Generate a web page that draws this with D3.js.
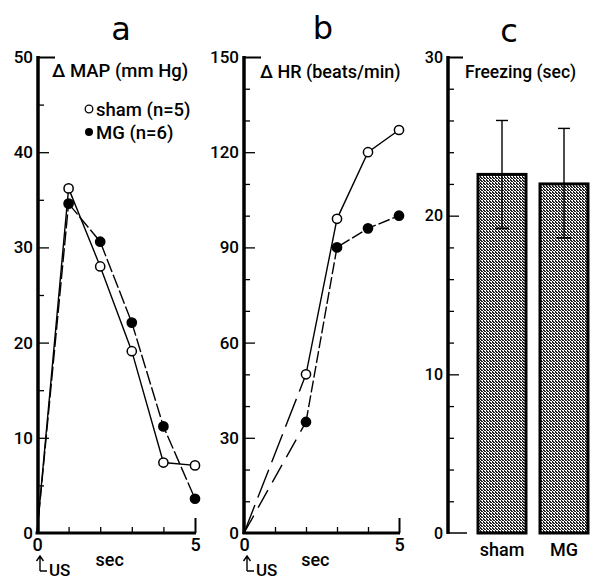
<!DOCTYPE html>
<html><head><meta charset="utf-8">
<script src="https://cdn.jsdelivr.net/npm/d3@7"></script>
<style>
body{margin:0;background:#fff;}
text{font-family:Roboto,"Liberation Sans",sans-serif;font-weight:500;fill:#000;}
</style></head><body>
<svg id="c" width="590" height="580"></svg>
<script>
// ---- data ----
const timeSec = [0, 1, 2, 3, 4, 5];
const mapSham = [0, 36.2, 28.0, 19.1, 7.4, 7.1];
const mapMG   = [0, 34.6, 30.6, 22.1, 11.2, 3.6];
const hrTime  = [0, 2, 3, 4, 5];
const hrSham  = [0, 50, 99, 120, 127];
const hrMG    = [0, 35, 90, 96, 100];
const groups  = ["sham", "MG"];
const freezeMean = [22.6, 22.0];
const freezeUpper = [26.0, 25.5];
const freezeLower = [19.2, 18.6];
const aTicks = [0, 10, 20, 30, 40, 50];
const bTicks = [0, 30, 60, 90, 120, 150];
const cTicks = [0, 10, 20, 30];
const xTickLabels = [0, 5];

const svg = d3.select("#c");
const defs = svg.append("defs");
const pat = defs.append("pattern").attr("id","dots").attr("width",3).attr("height",3)
  .attr("patternUnits","userSpaceOnUse");
pat.append("rect").attr("width",3).attr("height",3).attr("fill","#fff");
pat.append("rect").attr("x",0).attr("y",0).attr("width",2).attr("height",1).attr("fill","#222");
pat.append("rect").attr("x",1).attr("y",1).attr("width",2).attr("height",1).attr("fill","#222");
pat.append("rect").attr("x",0).attr("y",2).attr("width",1).attr("height",1).attr("fill","#222");

const FONT = 'Roboto,"Liberation Sans",sans-serif';

function yAxisPanel(y, x0, minorStep, majors, topTickLen, fs) {
  const g = svg.append("g").attr("transform", `translate(${x0},0)`);
  const [lo, hi] = y.domain();
  const minors = d3.range(lo, hi + 1e-9, minorStep).filter(v => !majors.includes(v));
  g.append("g").call(d3.axisRight(y).tickValues(minors).tickSize(6).tickFormat(""))
    .call(s => s.select(".domain").remove())
    .selectAll("line").attr("stroke-width",1.3);
  g.append("g").call(d3.axisRight(y).tickValues(majors.filter(v => v !== hi && v !== lo)).tickSize(11).tickFormat(""))
    .call(s => s.select(".domain").remove())
    .selectAll("line").attr("stroke-width",1.3);
  g.append("g").call(d3.axisRight(y).tickValues([hi]).tickSize(topTickLen).tickFormat(""))
    .call(s => s.select(".domain").remove())
    .selectAll("line").attr("stroke-width",2);
  const lab = g.append("g").call(d3.axisLeft(y).tickValues(majors).tickSize(0).tickPadding(5).tickFormat(d3.format("d")));
  lab.select(".domain").remove();
  lab.selectAll("text").attr("font-size",fs || 17).attr("font-weight","bold")
    .style("font-family",FONT);
  g.append("line").attr("x1",0).attr("x2",0).attr("y1",y(hi)-1).attr("y2",y(lo)+1)
    .attr("stroke","#000").attr("stroke-width",3.5);
  return g;
}

function xAxisPanel(x, y0) {
  const g = svg.append("g").attr("transform", `translate(0,${y0})`);
  g.append("g").call(d3.axisTop(x).tickValues([1,2,3,4]).tickSize(6).tickFormat(""))
    .call(s => s.select(".domain").remove())
    .selectAll("line").attr("stroke-width",1.3);
  g.append("g").call(d3.axisTop(x).tickValues([5]).tickSize(15).tickFormat(""))
    .call(s => s.select(".domain").remove())
    .selectAll("line").attr("stroke-width",2);
  g.append("line").attr("x1",x(0)-1.5).attr("x2",x(5)+1).attr("y1",0).attr("y2",0)
    .attr("stroke","#000").attr("stroke-width",3);
  const lab = g.append("g").call(d3.axisBottom(x).tickValues(xTickLabels).tickSize(0).tickPadding(5).tickFormat(d3.format("d")));
  lab.select(".domain").remove();
  lab.selectAll("text").attr("font-size",18).attr("font-weight","bold")
    .style("font-family",FONT);
  svg.append("text").attr("x", x(2.3)).attr("y", y0+33).attr("text-anchor","middle")
    .attr("font-size",18).text("sec");
  // US arrow
  const ax = x(0)+3;
  svg.append("path").attr("d",`M${ax},${y0+38} L${ax},${y0+24} M${ax-3.5},${y0+28} L${ax},${y0+23} L${ax+3.5},${y0+28} M${ax},${y0+38} L${ax+7},${y0+38}`)
    .attr("fill","none").attr("stroke","#000").attr("stroke-width",1.4);
  svg.append("text").attr("x", ax+9).attr("y", y0+43).attr("font-size",17).text("US");
}

function series(x, y, xs, ys, filled, dash, firstDash) {
  const pts = xs.map((t,i)=>[x(t), y(ys[i])]);
  const line = d3.line();
  svg.append("path").attr("d", line(pts.slice(0,2))).attr("fill","none")
    .attr("stroke","#000").attr("stroke-width",1.4).attr("stroke-dasharray", firstDash);
  svg.append("path").attr("d", line(pts.slice(1))).attr("fill","none")
    .attr("stroke","#000").attr("stroke-width",1.4).attr("stroke-dasharray", dash);
  svg.append("g").selectAll("circle").data(pts.slice(1)).join("circle")
    .attr("cx", d=>d[0]).attr("cy", d=>d[1]).attr("r", 4.6)
    .attr("fill", filled ? "#000" : "#fff").attr("stroke","#000").attr("stroke-width",1.5);
}

// ---- panel a ----
const xa = d3.scaleLinear().domain([0,5]).range([37,195]);
const ya = d3.scaleLinear().domain([0,50]).range([533,57]);
yAxisPanel(ya, 38, 5, aTicks, 17);
xAxisPanel(xa, 533);
series(xa, ya, timeSec, mapMG, true, "14,3", "14,3");
series(xa, ya, timeSec, mapSham, false, null, null);
svg.append("text").attr("x",121).attr("y",40).attr("text-anchor","middle").attr("font-size",32)
  .style("font-family","'DejaVu Sans',sans-serif").style("font-weight","normal").text("a");
svg.append("text").attr("x",52).attr("y",77).attr("font-size",18.5).text("Δ MAP (mm Hg)");
svg.append("circle").attr("cx",89).attr("cy",109).attr("r",3.8).attr("fill","#fff").attr("stroke","#000").attr("stroke-width",1.3);
svg.append("text").attr("x",96).attr("y",115.5).attr("font-size",18.5).text("sham (n=5)");
svg.append("circle").attr("cx",89).attr("cy",132).attr("r",4).attr("fill","#000");
svg.append("text").attr("x",96).attr("y",138.5).attr("font-size",18.5).text("MG (n=6)");

// ---- panel b ----
const xb = d3.scaleLinear().domain([0,5]).range([244,399]);
const yb = d3.scaleLinear().domain([0,150]).range([533,57]);
yAxisPanel(yb, 244, 10, bTicks, 17);
xAxisPanel(xb, 533);
series(xb, yb, hrTime, hrMG, true, "12,3", "20,9");
series(xb, yb, hrTime, hrSham, false, null, "30,8");
svg.append("text").attr("x",323).attr("y",39).attr("text-anchor","middle").attr("font-size",32)
  .style("font-family","'DejaVu Sans',sans-serif").style("font-weight","normal").text("b");
svg.append("text").attr("x",260).attr("y",78).attr("font-size",18).text("Δ HR (beats/min)");

// ---- panel c ----
const yc = d3.scaleLinear().domain([0,30]).range([533,57]);
const xc = d3.scaleBand().domain(groups).range([471,595]).paddingInner(0.226).paddingOuter(0.113);
yAxisPanel(yc, 448, 2, cTicks, 15, 16);
svg.append("line").attr("x1",448).attr("x2",467).attr("y1",yc(0)).attr("y2",yc(0)).attr("stroke","#000").attr("stroke-width",1.5);
svg.append("g").selectAll("rect").data(groups).join("rect")
  .attr("x", d=>xc(d)).attr("width", xc.bandwidth())
  .attr("y", (d,i)=>yc(freezeMean[i])).attr("height",(d,i)=>yc(0)-yc(freezeMean[i]))
  .attr("fill","url(#dots)").attr("stroke","#000").attr("stroke-width",3);
groups.forEach((g,i)=>{
  const cx = xc(g)+xc.bandwidth()/2;
  svg.append("line").attr("x1",cx).attr("x2",cx).attr("y1",yc(freezeUpper[i])).attr("y2",yc(freezeLower[i]))
    .attr("stroke","#000").attr("stroke-width",1.4);
  svg.append("line").attr("x1",cx-6).attr("x2",cx+6).attr("y1",yc(freezeUpper[i])).attr("y2",yc(freezeUpper[i]))
    .attr("stroke","#000").attr("stroke-width",1.4);
  svg.append("line").attr("x1",cx-7).attr("x2",cx+7).attr("y1",yc(freezeLower[i])).attr("y2",yc(freezeLower[i]))
    .attr("stroke","#000").attr("stroke-width",1.8);
  svg.append("text").attr("x",cx).attr("y",556).attr("text-anchor","middle").attr("font-size",18).text(g);
});
svg.append("text").attr("x",509).attr("y",42).attr("text-anchor","middle").attr("font-size",32)
  .style("font-family","'DejaVu Sans',sans-serif").style("font-weight","normal").text("c");
svg.append("text").attr("x",465).attr("y",78).attr("font-size",17.5).text("Freezing (sec)");
</script></body></html>
